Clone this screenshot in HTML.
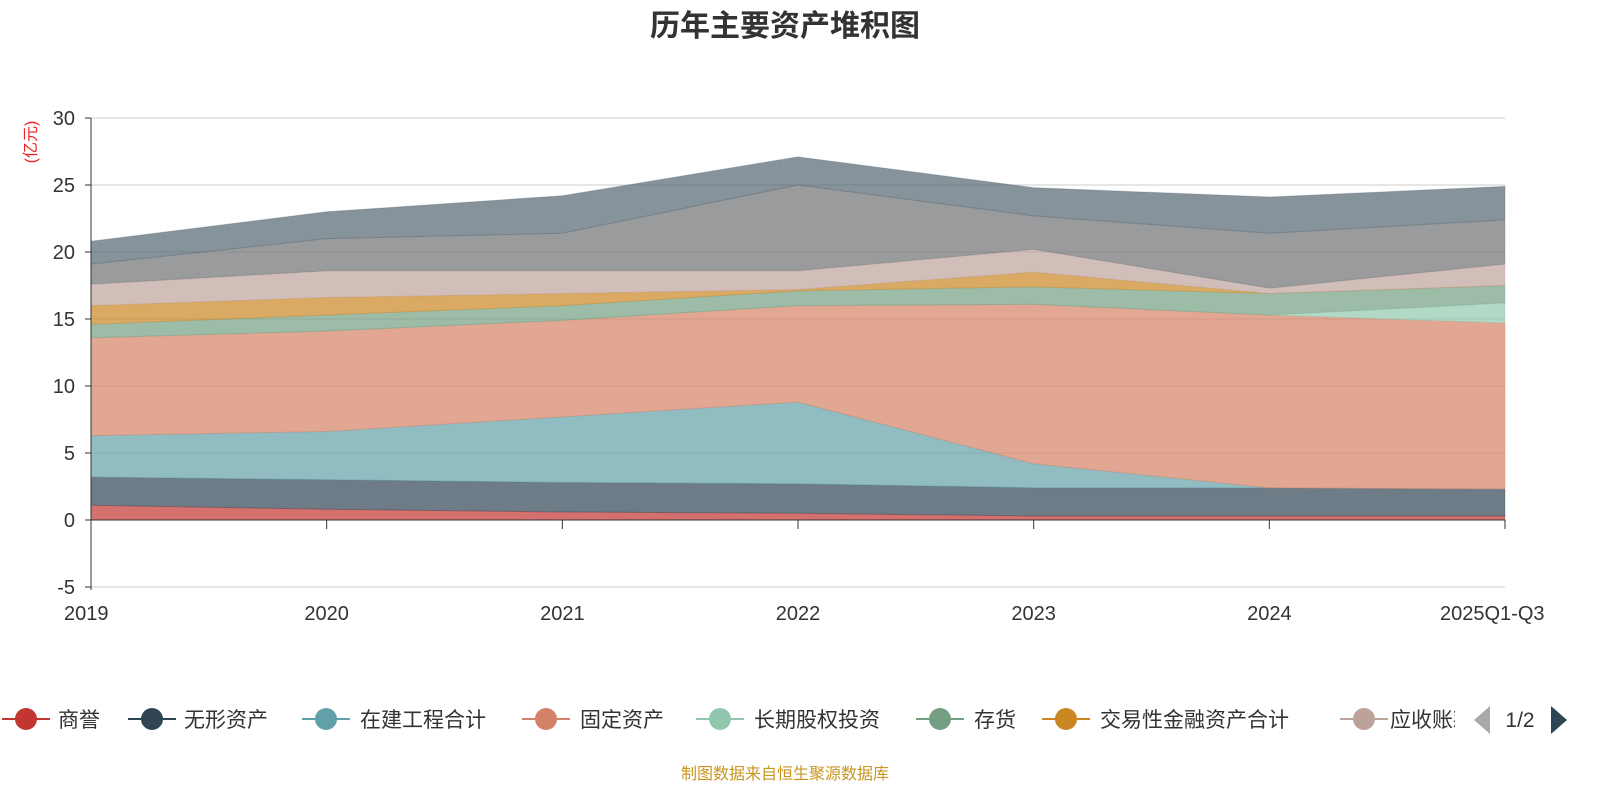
<!DOCTYPE html>
<html><head><meta charset="utf-8"><style>
body{margin:0;background:#fff;}
svg{display:block;font-family:"Liberation Sans","Noto Sans CJK SC",sans-serif;}
</style></head><body>
<svg id="chart" width="1600" height="800">
<text x="785" y="36" text-anchor="middle" font-size="30" font-weight="bold" fill="#333">历年主要资产堆积图</text>
<text transform="translate(36,142) rotate(-90)" text-anchor="middle" font-size="16" fill="#e22">(亿元)</text>
<g id="grid"></g><g id="areas"></g><g id="axes"></g><g id="legend"></g>
<text x="785" y="779" text-anchor="middle" font-size="16" fill="#c8961e">制图数据来自恒生聚源数据库</text>
</svg>
<script>
const categories=["2019","2020","2021","2022","2023","2024","2025Q1-Q3"];
const seriesNames=["商誉","无形资产","在建工程合计","固定资产","长期股权投资","存货","交易性金融资产合计","应收账款","其他资产","货币资金"];
const s0=[1.1,0.8,0.6,0.5,0.3,0.3,0.3];
const s1=[2.1,2.2,2.2,2.2,2.1,2.1,2.0];
const s2=[3.1,3.6,4.9,6.1,1.8,0.0,0.0];
const s3=[7.3,7.5,7.2,7.2,11.9,12.9,12.4];
const s4=[0.0,0.0,0.0,0.0,0.0,0.0,1.5];
const s5=[1.0,1.2,1.1,1.1,1.3,1.6,1.3];
const s6=[1.4,1.3,0.9,0.1,1.1,0.0,0.0];
const s7=[1.6,2.0,1.7,1.4,1.7,0.4,1.6];
const s8=[1.5,2.4,2.8,6.4,2.5,4.1,3.3];
const s9=[1.7,2.0,2.8,2.1,2.1,2.7,2.5];
const yTicks=[-5,0,5,10,15,20,25,30];
const series=[s0,s1,s2,s3,s4,s5,s6,s7,s8,s9];
const colors=["#c23531","#2f4554","#61a0a8","#d48265","#91c7ae","#749f83","#ca8622","#bda29a","#6e7074","#546570"];
const NS="http://www.w3.org/2000/svg";
const X=i=>91+i*(1505-91)/(categories.length-1);
const Y=v=>520-v*(520-118)/30;
function mk(t,a,p){const e=document.createElementNS(NS,t);for(const k in a)e.setAttribute(k,a[k]);p.appendChild(e);return e;}
const grid=document.getElementById('grid'),areas=document.getElementById('areas'),axes=document.getElementById('axes'),leg=document.getElementById('legend');
yTicks.forEach(v=>{
 if(v!==0){const l=mk('line',{x1:91,x2:1505,y1:Y(v),y2:Y(v),stroke:'#ccc'},grid);
 
 }
 const t=mk('text',{x:75,y:Y(v)+7,'text-anchor':'end','font-size':20,fill:'#333'},axes);t.textContent=v;
 
 
 mk('line',{x1:85,x2:91,y1:Y(v),y2:Y(v),stroke:'#333'},axes);
});
let base=categories.map(()=>0);
series.forEach((s,k)=>{
 const top=base.map((b,i)=>b+s[i]);
 let d='M'+top.map((v,i)=>X(i)+','+Y(v)).join('L');
 for(let i=categories.length-1;i>=0;i--)d+='L'+X(i)+','+Y(base[i]);
 const p=mk('path',{d:d+'Z',fill:colors[k],'fill-opacity':0.7,stroke:colors[k],'stroke-opacity':0.3},areas);
 
 
 base=top;
});
mk('line',{x1:91,x2:91,y1:118,y2:590,stroke:'#333'},axes);
mk('line',{x1:91,x2:1505,y1:Y(0),y2:Y(0),stroke:'#333'},axes);
categories.forEach((c,i)=>{
 mk('line',{x1:X(i),x2:X(i),y1:Y(0),y2:Y(0)+9,stroke:'#333'},axes);
 const t=mk('text',{x:X(i),y:620,'text-anchor':i==0?'start':(i==categories.length-1?'start':'middle'),'font-size':20,fill:'#333'},axes);
 if(i==0)t.setAttribute('x',64);
 if(i==categories.length-1)t.setAttribute('x',1440);
 t.textContent=c;
 
 
});
const lx=[26,152,326,546,720,940,1066,1364];
const tx=[58,184,360,580,754,974,1100,1390];
lx.forEach((cx,k)=>{
 const g=mk('g',{},leg);
 
 
 mk('line',{x1:cx-24,x2:cx+24,y1:719,y2:719,stroke:colors[k],'stroke-width':2},g);
 mk('circle',{cx:cx,cy:719,r:11,fill:colors[k]},g);
 const t=mk('text',{x:tx[k],y:727,'font-size':21,fill:'#333'},g);
 t.textContent=seriesNames[k];
});
const cp=mk('clipPath',{id:'lc'},leg);mk('rect',{x:1380,y:700,width:75,height:40},cp);
leg.lastChild.previousSibling;
const lastT=leg.children[leg.children.length-2].querySelector('text');lastT.setAttribute('clip-path','url(#lc)');
const pv=mk('path',{d:'M1490,706 L1474,720 L1490,734Z',fill:'#aaa'},leg);


const pt=mk('text',{x:1520,y:727,'text-anchor':'middle','font-size':21,fill:'#333'},leg);pt.textContent='1/2';


const nx=mk('path',{d:'M1551,706 L1567,720 L1551,734Z',fill:'#2f4554'},leg);


</script>
</body></html>
